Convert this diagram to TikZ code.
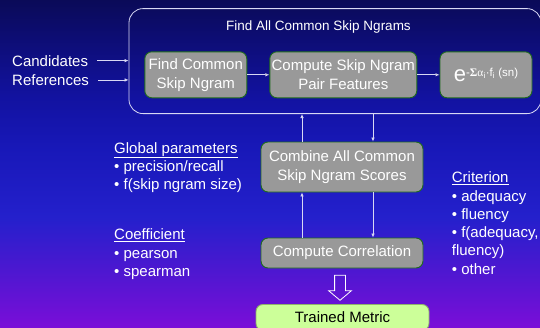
\documentclass[tikz,border=0pt]{standalone}
\usepackage{fontspec}
\setmainfont{Liberation Sans}
\newfontfamily\greekfont{Liberation Serif}
\usetikzlibrary{shapes.arrows,positioning,arrows.meta}
\definecolor{boxgray}{HTML}{999999}
\definecolor{boxedge}{HTML}{1E6A1E}
\definecolor{linecol}{HTML}{D8D8F4}
\definecolor{metricfill}{HTML}{CCFF99}
\definecolor{bgA}{HTML}{7A0ED8}
\definecolor{bgB}{HTML}{4A18D0}
\definecolor{bgC}{HTML}{2420CC}
\definecolor{bgD}{HTML}{1818B8}
\definecolor{bgE}{HTML}{1212A0}
\definecolor{bgF}{HTML}{0A0A58}
% slide background, purple at the bottom to navy at the top
\pgfdeclareverticalshading{slidebg}{100bp}{color(0bp)=(bgA); color(25bp)=(bgA);
  color(34.2bp)=(bgB); color(41.8bp)=(bgC); color(52.5bp)=(bgD);
  color(60.2bp)=(bgE); color(75bp)=(bgF); color(100bp)=(bgF)}

\begin{document}
\begin{tikzpicture}[x=1pt,y=-1pt,
  box/.style={draw=boxedge,line width=0.9pt,fill=boxgray,rounded corners=7pt,
    text=white,align=center,font=\fontsize{15}{19}\selectfont,inner sep=0pt},
  note/.style={text=white,align=left,font=\fontsize{15}{18.3}\selectfont,
    inner sep=0pt,anchor=north west},
  arr/.style={draw=linecol,line width=0.7pt,-{Latex[length=4pt,width=3.5pt]}}]
\useasboundingbox (0,0) rectangle (540,327);
\shade[shading=slidebg] (0,0) rectangle (540,327);

% inner loop
\node[draw=linecol,line width=0.8pt,rounded corners=14pt,minimum width=412pt,
  minimum height=105pt,inner sep=0pt] (all) at (335,61.1) {};
\node[text=white,font=\fontsize{13.5}{16}\selectfont] (title) at (318.5,27.5) {Find All Common Skip Ngrams};
\node[box,minimum width=102pt,minimum height=46pt] (find) at (195.8,74.8) {Find Common\\Skip Ngram};
\node[box,minimum width=147pt,minimum height=46pt] (pair) at (343.3,74.8) {Compute Skip Ngram\\Pair Features};
\node[box,minimum width=92pt,minimum height=46pt] (expo) at (486,74.8)
  {{\fontsize{22}{22}\selectfont e}\raisebox{5pt}{\fontsize{11.5}{12}\selectfont -{\greekfont\bfseries Σ}{\greekfont α}\textsubscript{i}·f\textsubscript{i} (sn)}};
\path[arr] (find) edge (pair) (pair) edge (expo);

% inputs
\node[note,anchor=base west] (cand) at (12,66) {Candidates};
\node[note,anchor=base west] (refs) at (12,85.3) {References};
\draw[arr] ([xshift=9pt]cand.east) -- (cand.east -| all.west);
\draw[arr] ([xshift=9pt]refs.east) -- (refs.east -| all.west);

% outer loop
\node[box,minimum width=162pt,minimum height=50pt] (comb) at (342,167) {Combine All Common\\Skip Ngram Scores};
\node[box,minimum width=162pt,minimum height=30pt] (corr) at (342,253) {Compute Correlation};
\node[box,draw=metricfill!70!black,fill=metricfill,text=black,minimum width=173pt,
  minimum height=26pt,anchor=north] (metric) at (342.5,304) {Trained Metric};
\draw[arr] ([xshift=-40pt]comb.north) -- ([xshift=-40pt]comb.north |- all.south);
\draw[arr] ([xshift=31pt]comb.north |- all.south) -- ([xshift=31pt]comb.north);
\draw[arr] ([xshift=-40pt]corr.north) -- ([xshift=-40pt]comb.south);
\draw[arr] ([xshift=31pt]comb.south) -- ([xshift=31pt]corr.north);
\node[single arrow,draw=white,line width=0.8pt,rotate=-90,inner sep=5pt,
  single arrow head extend=6pt,single arrow tip angle=100,minimum height=25pt] (down) at (340,285.5) {};

% settings
\node[note] (glob) at (114,142) {\underline{Global parameters}\\• precision/recall\\• f(skip ngram size)};
\node[note] (coef) at (114,228.8) {\underline{Coefficient}\\• pearson\\• spearman};
\node[note] (crit) at (451.7,171.7) {\underline{Criterion}\\• adequacy\\• fluency\\• f(adequacy,\\fluency)\\• other};
\end{tikzpicture}
\end{document}
